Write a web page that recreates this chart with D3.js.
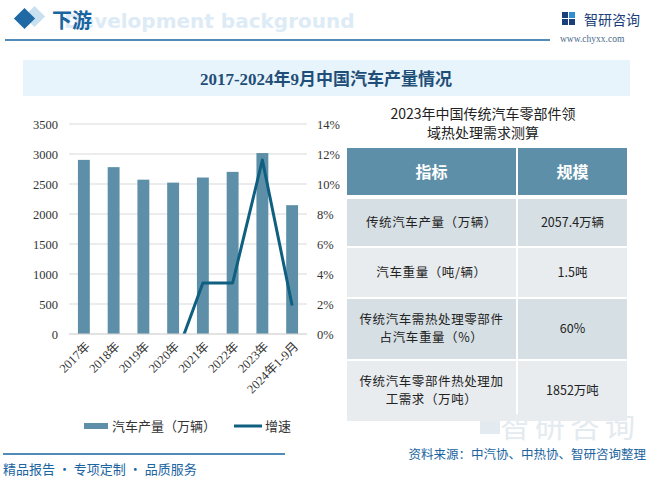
<!DOCTYPE html>
<html>
<head>
<meta charset="utf-8">
<script src="https://cdn.jsdelivr.net/npm/d3@7"></script>
<style>
  body { margin: 0; background: #fff; }
  svg { display: block; }
</style>
</head>
<body>
<div id="chart"></div>
<script>
// data
let years = ["2017年", "2018年", "2019年", "2020年", "2021年", "2022年", "2023年", "2024年1-9月"];
let production = [2902, 2781, 2572, 2523, 2608, 2702, 3016, 2147];
let growth = [null, null, null, -2.0, 3.4, 3.4, 11.6, 1.9];
let leftTicks = [0, 500, 1000, 1500, 2000, 2500, 3000, 3500];
let rightTicks = [0, 2, 4, 6, 8, 10, 12, 14];
let tableHead = ["指标", "规模"];
let tableRows = [
    [["传统汽车产量（万辆）"], "2057.4万辆"],
    [["汽车重量（吨/辆）"], "1.5吨"],
    [["传统汽车需热处理零部件", "占汽车重量（%）"], "60%"],
    [["传统汽车零部件热处理加", "工需求（万吨）"], "1852万吨"]
];

let W = 658, H = 482;
let cjk = "'Noto Sans CJK SC', 'Noto Sans', sans-serif";
let serif = "'Liberation Serif', 'Noto Sans CJK SC', serif";
let blue = "#1a64a0";

let svg = d3.select("#chart").append("svg")
    .attr("width", W)
    .attr("height", H);

// faint watermark (sits under the table)
svg.append("text")
    .attr("x", 640).attr("y", 437)
    .attr("text-anchor", "end")
    .attr("font-family", cjk)
    .attr("font-size", 30)
    .attr("fill", "#e3eaf0")
    .style("letter-spacing", "5px")
    .text("智研咨询");
svg.append("rect")
    .attr("x", 480).attr("y", 410).attr("width", 20).attr("height", 24)
    .attr("fill", "#e3eaf0");

/* ---------- header ---------- */
svg.append("rect")
    .attr("x", 27).attr("y", 9).attr("width", 15).attr("height", 15)
    .attr("transform", "rotate(45 34.5 16.5)")
    .attr("fill", "#c9e0f0");
svg.append("rect")
    .attr("x", 17).attr("y", 11).attr("width", 15).attr("height", 15)
    .attr("transform", "rotate(45 24.5 18.5)")
    .attr("fill", "#1f6aa5");
svg.append("text")
    .attr("x", 64).attr("y", 28)
    .attr("font-family", "'DejaVu Sans', sans-serif")
    .attr("font-weight", "bold")
    .attr("font-size", 20)
    .attr("fill", "#ddebf6")
    .text("Development background");
svg.append("text")
    .attr("x", 52).attr("y", 28)
    .attr("font-family", cjk)
    .attr("font-weight", "bold")
    .attr("font-size", 20)
    .attr("fill", blue)
    .text("下游");
svg.append("line")
    .attr("x1", 5).attr("x2", 550).attr("y1", 40).attr("y2", 40)
    .attr("stroke", blue).attr("stroke-width", 1.5);

// logo
let logo = svg.append("g").attr("transform", "translate(562,12)");
logo.append("rect").attr("x", 0).attr("y", 0).attr("width", 6).attr("height", 6).attr("fill", "#1a3f7a");
logo.append("rect").attr("x", 0).attr("y", 7).attr("width", 6).attr("height", 6).attr("fill", "#1a3f7a");
logo.append("rect").attr("x", 7).attr("y", 0).attr("width", 6).attr("height", 6).attr("fill", "#2e8fd6");
logo.append("rect").attr("x", 7).attr("y", 7).attr("width", 6).attr("height", 6).attr("fill", "#1a3f7a");
svg.append("text")
    .attr("x", 584).attr("y", 25)
    .attr("font-family", cjk)
    .attr("font-size", 14)
    .attr("fill", "#1a3f7a")
    .text("智研咨询");
svg.append("text")
    .attr("x", 560).attr("y", 42)
    .attr("font-family", serif)
    .attr("font-size", 9.5)
    .attr("fill", "#4a6a8a")
    .text("www.chyxx.com");

/* ---------- title banner ---------- */
svg.append("rect")
    .attr("x", 23).attr("y", 60).attr("width", 607).attr("height", 36)
    .attr("fill", "#e8f4fb");
svg.append("text")
    .attr("x", 326).attr("y", 85)
    .attr("text-anchor", "middle")
    .attr("font-family", serif)
    .attr("font-weight", "bold")
    .attr("font-size", 17)
    .attr("fill", "#1f4e79")
    .text("2017-2024年9月中国汽车产量情况");

/* ---------- combo chart ---------- */
let plot = {left: 69, right: 307, top: 124, bottom: 334};

let x = d3.scaleBand()
    .domain(years)
    .range([plot.left, plot.right])
    .paddingInner(0.6)
    .paddingOuter(0.3);

let yL = d3.scaleLinear().domain([0, 3500]).range([plot.bottom, plot.top]);
let yR = d3.scaleLinear().domain([0, 14]).range([plot.bottom, plot.top]);

// gridlines
svg.append("g").selectAll("line")
    .data(leftTicks)
    .enter().append("line")
    .attr("x1", plot.left).attr("x2", plot.right)
    .attr("y1", d => yL(d)).attr("y2", d => yL(d))
    .attr("stroke", "#d9d9d9").attr("stroke-width", 1);

// left axis
let axL = svg.append("g")
    .attr("transform", `translate(${plot.left},0)`)
    .call(d3.axisLeft(yL).tickValues(leftTicks).tickSize(0).tickPadding(11)
        .tickFormat(d => String(d)));
axL.select(".domain").remove();
axL.selectAll("text")
    .attr("font-family", serif).attr("font-size", 12.5).attr("fill", "#333");

// right axis
let axR = svg.append("g")
    .attr("transform", `translate(${plot.right},0)`)
    .call(d3.axisRight(yR).tickValues(rightTicks).tickSize(0).tickPadding(10)
        .tickFormat(d => d + "%"));
axR.select(".domain").remove();
axR.selectAll("text")
    .attr("font-family", serif).attr("font-size", 12.5).attr("fill", "#333");

// bars
svg.append("g").selectAll("rect")
    .data(production)
    .enter().append("rect")
    .attr("x", (d, i) => x(years[i]))
    .attr("width", x.bandwidth())
    .attr("y", d => yL(d))
    .attr("height", d => yL(0) - yL(d))
    .attr("fill", "#5d90a8");

// growth line, clipped to plot area
svg.append("clipPath").attr("id", "plotClip")
    .append("rect")
    .attr("x", plot.left).attr("y", plot.top - 5)
    .attr("width", plot.right - plot.left).attr("height", plot.bottom - plot.top + 5);

let line = d3.line()
    .defined(d => d != null)
    .x((d, i) => x(years[i]) + x.bandwidth() / 2)
    .y(d => yR(d));

svg.append("path")
    .datum(growth)
    .attr("clip-path", "url(#plotClip)")
    .attr("d", line)
    .attr("fill", "none")
    .attr("stroke", "#0f5f80")
    .attr("stroke-width", 3)
    .attr("stroke-linejoin", "round");

// baseline
svg.append("line")
    .attr("x1", plot.left).attr("x2", plot.right)
    .attr("y1", plot.bottom).attr("y2", plot.bottom)
    .attr("stroke", "#d9d9d9");

// x labels
svg.append("g").selectAll("text")
    .data(years)
    .enter().append("text")
    .attr("transform", d => `translate(${x(d) + x.bandwidth() / 2 + 4},${plot.bottom + 10}) rotate(-45)`)
    .attr("text-anchor", "end")
    .attr("dy", "0.35em")
    .attr("font-family", serif)
    .attr("font-size", 12.5)
    .attr("fill", "#333")
    .text(d => d);

// legend
let legend = svg.append("g");
legend.append("rect")
    .attr("x", 84).attr("y", 423).attr("width", 24).attr("height", 6)
    .attr("fill", "#5d90a8");
legend.append("text")
    .attr("x", 112).attr("y", 431)
    .attr("font-family", cjk).attr("font-size", 13).attr("fill", "#333")
    .text("汽车产量（万辆）");
legend.append("line")
    .attr("x1", 234).attr("x2", 262).attr("y1", 426).attr("y2", 426)
    .attr("stroke", "#0f5f80").attr("stroke-width", 3);
legend.append("text")
    .attr("x", 265).attr("y", 431)
    .attr("font-family", cjk).attr("font-size", 13).attr("fill", "#333")
    .text("增速");

/* ---------- table ---------- */
let tbl = {left: 347, split: 517, right: 627, top: 148};
let headH = 49;
let rowH = [49, 51, 62, 62];

svg.append("text")
    .attr("x", 483).attr("y", 119)
    .attr("text-anchor", "middle")
    .attr("font-family", cjk).attr("font-size", 14).attr("fill", "#222")
    .text("2023年中国传统汽车零部件领");
svg.append("text")
    .attr("x", 483).attr("y", 138)
    .attr("text-anchor", "middle")
    .attr("font-family", cjk).attr("font-size", 14).attr("fill", "#222")
    .text("域热处理需求测算");

// header
let colX = [[tbl.left, tbl.split - 1], [tbl.split + 1, tbl.right]];
tableHead.forEach((h, j) => {
    svg.append("rect")
        .attr("x", colX[j][0]).attr("y", tbl.top)
        .attr("width", colX[j][1] - colX[j][0]).attr("height", headH - 2)
        .attr("fill", "#5d90a8");
    svg.append("text")
        .attr("x", (colX[j][0] + colX[j][1]) / 2).attr("y", tbl.top + headH / 2)
        .attr("dy", "0.35em")
        .attr("text-anchor", "middle")
        .attr("font-family", cjk).attr("font-weight", "bold").attr("font-size", 16)
        .attr("fill", "#fff")
        .text(h);
});

let rowY = tbl.top + headH + 2;
tableRows.forEach((row, i) => {
    let fill = i % 2 === 0 ? "#d6dfe4" : "#e8ecef";
    let h = rowH[i];
    colX.forEach((c, j) => {
        svg.append("rect")
            .attr("x", c[0]).attr("y", rowY)
            .attr("width", c[1] - c[0]).attr("height", h - 2)
            .attr("fill", fill);
    });
    let cy = rowY + (h - 2) / 2;
    let lines = row[0];
    lines.forEach((t, k) => {
        svg.append("text")
            .attr("x", (colX[0][0] + colX[0][1]) / 2)
            .attr("y", cy + (k - (lines.length - 1) / 2) * 18)
            .attr("dy", "0.35em")
            .attr("text-anchor", "middle")
            .attr("font-family", cjk).attr("font-size", 12.5).attr("fill", "#222")
            .style("letter-spacing", "0.6px")
            .text(t);
    });
    svg.append("text")
        .attr("x", (colX[1][0] + colX[1][1]) / 2).attr("y", cy)
        .attr("dy", "0.35em")
        .attr("text-anchor", "middle")
        .attr("font-family", cjk).attr("font-size", 12.5).attr("fill", "#222")
        .text(row[1]);
    rowY += h;
});

/* ---------- footer ---------- */
svg.append("line")
    .attr("x1", 3).attr("x2", 285).attr("y1", 454).attr("y2", 454)
    .attr("stroke", blue).attr("stroke-width", 1.5);
svg.append("text")
    .attr("x", 3).attr("y", 474)
    .attr("font-family", cjk).attr("font-size", 13).attr("fill", blue)
    .text("精品报告 · 专项定制 · 品质服务");
svg.append("text")
    .attr("x", 646).attr("y", 459)
    .attr("text-anchor", "end")
    .attr("font-family", cjk).attr("font-size", 12.5).attr("fill", blue)
    .text("资料来源：中汽协、中热协、智研咨询整理");
</script>
</body>
</html>
